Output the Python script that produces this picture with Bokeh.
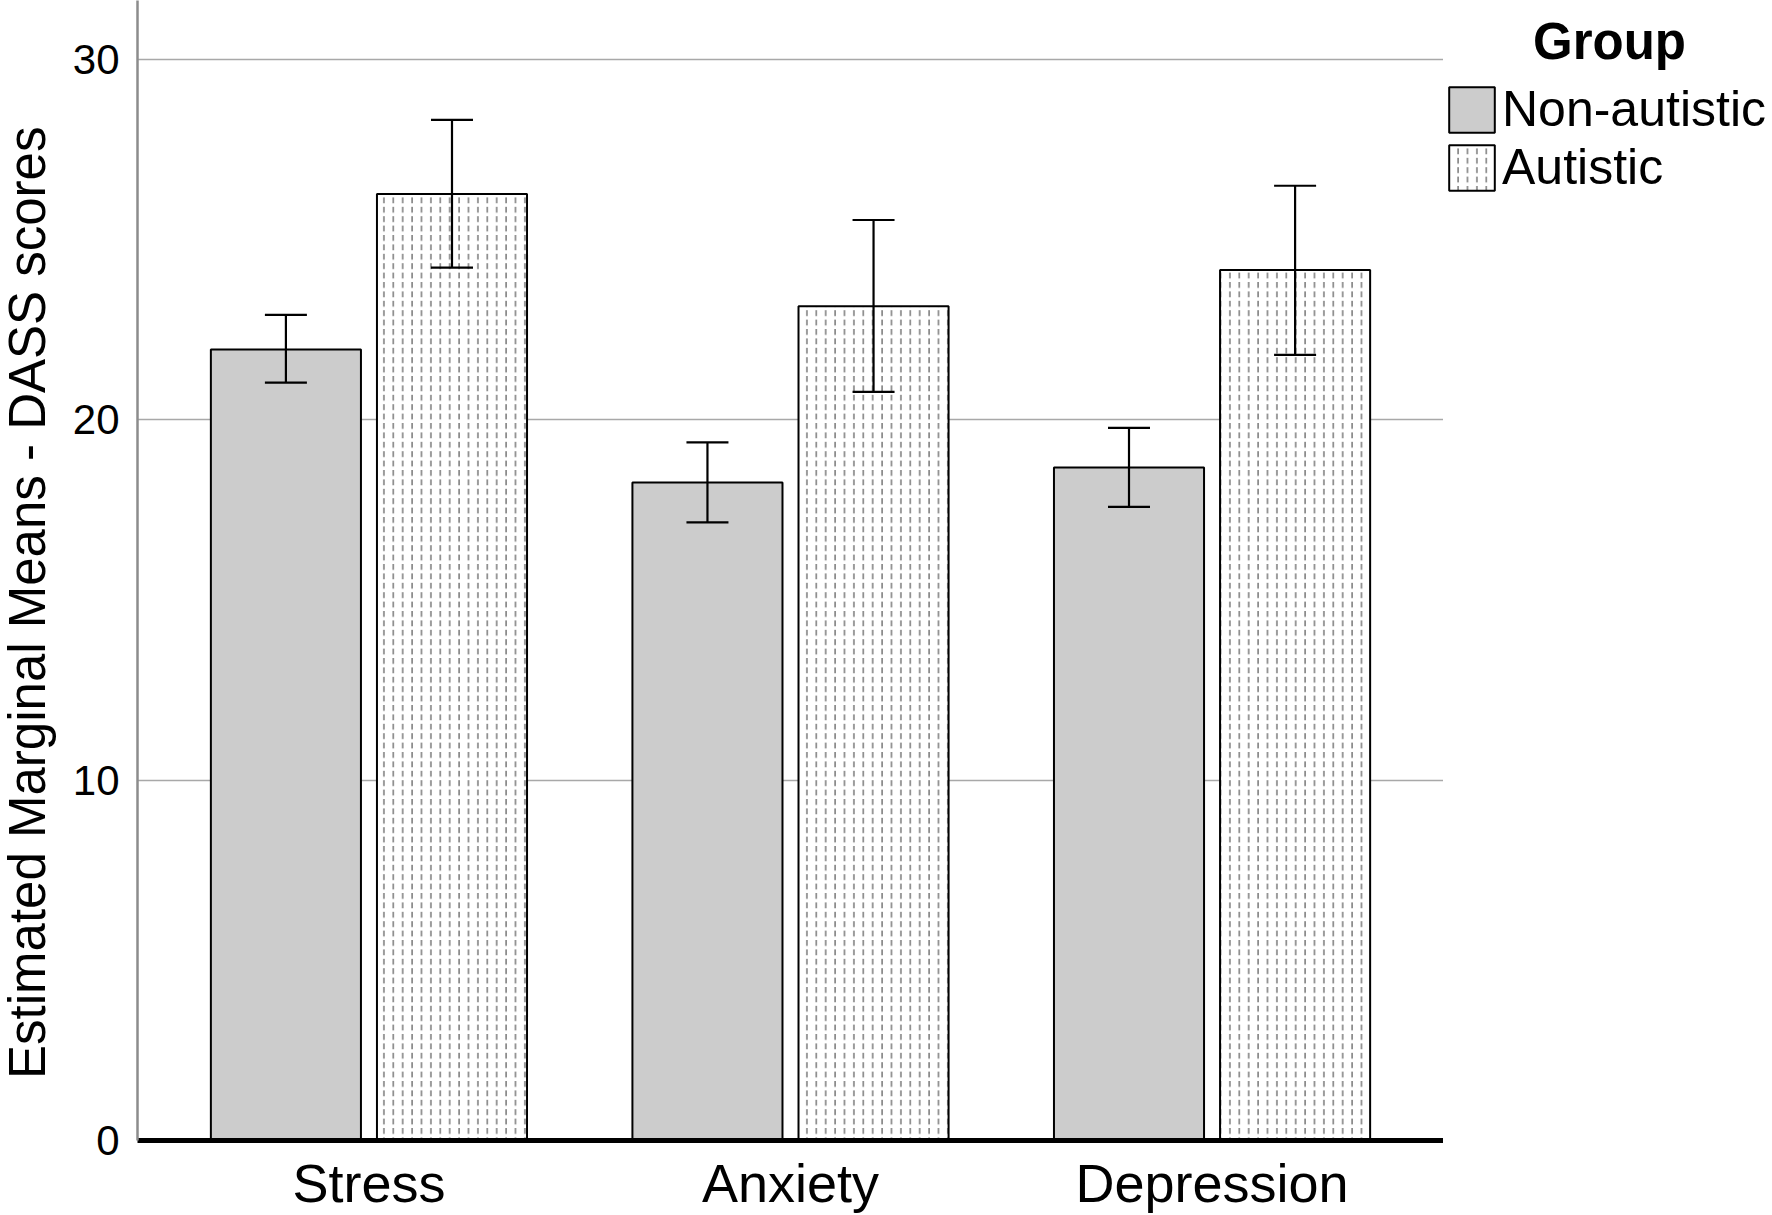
import math
from bokeh.plotting import figure
from bokeh.layouts import row
from bokeh.models import (ColumnDataSource, FactorRange, Range1d, Whisker, TeeHead,
                          Legend, LegendItem, Label, FixedTicker)
from bokeh.transform import dodge
from bokeh.embed import file_html
from bokeh.resources import INLINE

# ---- data ----
categories = ["Stress", "Anxiety", "Depression"]
groups = ["Non-autistic", "Autistic"]
non_autistic_mean = [21.95, 18.26, 18.67]
non_autistic_upper = [22.91, 19.37, 19.77]
non_autistic_lower = [21.03, 17.15, 17.58]
autistic_mean = [26.26, 23.15, 24.15]
autistic_upper = [28.32, 25.54, 26.49]
autistic_lower = [24.22, 20.77, 21.80]
y_ticks = [0, 10, 20, 30]
y_title = "Estimated Marginal Means - DASS scores"
legend_title = "Group"

FONT = "Liberation Sans"
H = 1215
TITLE_W = 68
MAIN_W = 1375
LEG_W = 329

NA_STYLE = dict(fill_color="#cccccc", line_color="black", line_width=2)
AU_STYLE = dict(fill_color="white", line_color="black", line_width=2,
                hatch_pattern=":", hatch_color="#666666", hatch_scale=9.4, hatch_weight=1.3)

src = ColumnDataSource(dict(
    cat=categories,
    na=non_autistic_mean, na_up=non_autistic_upper, na_lo=non_autistic_lower,
    au=autistic_mean, au_up=autistic_upper, au_lo=autistic_lower,
))

yr = Range1d(0, 31.63)

# ---------- main chart ----------
p = figure(
    x_range=FactorRange(*categories, range_padding=0.0327),
    y_range=yr,
    width=MAIN_W, height=H,
    output_backend="svg", toolbar_location=None,
    min_border_left=69, min_border_right=0,
    min_border_top=0, min_border_bottom=75,
)
p.outline_line_color = None
p.background_fill_color = "white"
p.border_fill_color = "white"

OFF = 0.197
BW = 0.356

p.vbar(x=dodge("cat", -OFF, range=p.x_range), top="na", width=BW, source=src, **NA_STYLE)
p.vbar(x=dodge("cat", OFF, range=p.x_range), top="au", width=BW, source=src, **AU_STYLE)

for off, up, lo in [(-OFF, "na_up", "na_lo"), (OFF, "au_up", "au_lo")]:
    w = Whisker(source=src, base=dodge("cat", off, range=p.x_range), upper=up, lower=lo,
                line_color="black", line_width=2.2, level="overlay",
                upper_head=TeeHead(size=42, line_color="black", line_width=2.2),
                lower_head=TeeHead(size=42, line_color="black", line_width=2.2))
    p.add_layout(w)

p.xgrid.grid_line_color = None
p.ygrid.grid_line_color = "#a8a8a8"
p.ygrid.grid_line_width = 1.5
p.yaxis.ticker = FixedTicker(ticks=y_ticks)
p.yaxis.axis_line_color = "#8c8c8c"
p.yaxis.axis_line_width = 2.5
p.yaxis.major_tick_line_color = None
p.yaxis.minor_tick_line_color = None
p.yaxis.major_label_text_font = FONT
p.yaxis.major_label_text_font_size = "42px"
p.yaxis.major_label_text_color = "black"
p.yaxis.major_label_standoff = 12

p.xaxis.axis_line_color = "black"
p.xaxis.axis_line_width = 5
p.xaxis.major_tick_line_color = None
p.xaxis.minor_tick_line_color = None
p.xaxis.major_label_text_font = FONT
p.xaxis.major_label_text_font_size = "54px"
p.xaxis.major_label_text_color = "black"
p.xaxis.major_label_standoff = 6


def side_panel(width):
    f = figure(width=width, height=H, x_range=Range1d(0, width), y_range=yr,
               output_backend="svg", toolbar_location=None,
               x_axis_location=None, y_axis_location=None,
               min_border_left=0, min_border_right=0, min_border_top=0, min_border_bottom=75)
    f.outline_line_color = None
    f.xgrid.visible = False
    f.ygrid.visible = False
    f.background_fill_color = "white"
    f.border_fill_color = "white"
    return f


# ---------- y axis title panel ----------
t = side_panel(TITLE_W)
t.add_layout(Label(x=27, y=14.92, text=y_title, angle=math.pi / 2,
                   text_align="center", text_baseline="alphabetic",
                   text_font=FONT, text_font_size="51px", text_color="black"))

# ---------- legend panel ----------
lg = side_panel(LEG_W)
# legend proxies: categorical x on a numeric panel, so nothing is drawn here
k1 = lg.vbar(x="cat", top="na", width=1, source=src, **NA_STYLE)
k2 = lg.vbar(x="cat", top="au", width=1, source=src, **AU_STYLE)
legend = Legend(items=[LegendItem(label=groups[0], renderers=[k1]),
                       LegendItem(label=groups[1], renderers=[k2])],
                location=(0, 944), orientation="vertical",
                glyph_width=57, glyph_height=57, label_height=58, label_standoff=2,
                spacing=0, padding=0, margin=0,
                border_line_color=None, background_fill_alpha=0,
                label_text_font=FONT, label_text_font_size="50px", label_text_color="black")
lg.add_layout(legend)
lg.add_layout(Label(x=166, y=30.48, text=legend_title,
                    text_align="center", text_baseline="alphabetic",
                    text_font=FONT, text_font_size="51px", text_font_style="bold",
                    text_color="black"))

layout = row(t, p, lg, spacing=0)
open("out.html", "w").write(file_html(layout, INLINE))
